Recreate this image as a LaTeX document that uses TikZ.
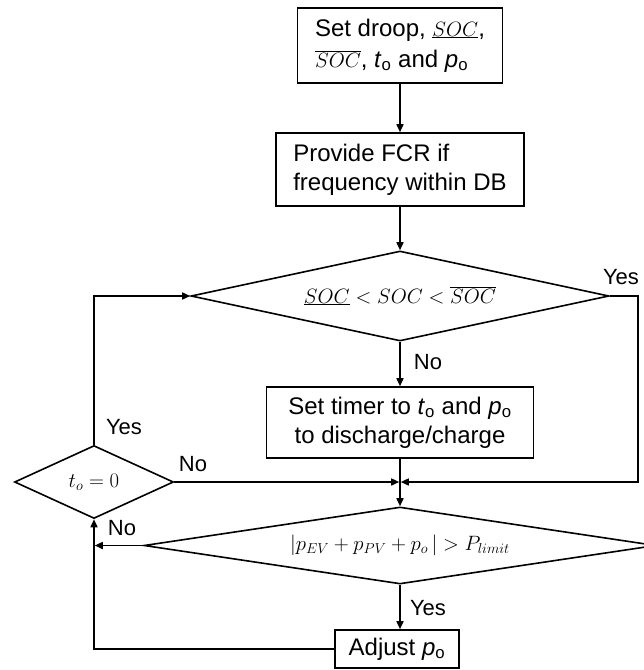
\documentclass[tikz,border=0pt]{standalone}
\usepackage[no-math]{fontspec}
\setmainfont{Liberation Sans}
\usetikzlibrary{shapes.geometric,arrows.meta}

\tikzset{
  wire/.style={line width=1.6pt},
  flow/.style={wire, -{Triangle[length=8pt,width=7pt]}},
  procbox/.style={draw, line width=1.6pt, rectangle, inner sep=0pt,
                  font=\fontsize{24}{29}\selectfont},
  decide/.style={draw, line width=1.6pt, diamond, inner sep=0pt},
  tag/.style={inner sep=0pt, font=\fontsize{22}{26}\selectfont},
}
% math set slightly smaller than the surrounding sans text
\newcommand{\mathsz}[1]{{\fontsize{21}{25}\selectfont$#1$}}
\newcommand{\subo}[1]{\textit{#1}\textsubscript{o}}

\begin{document}
\begin{tikzpicture}[x=1pt,y=-1pt]
\useasboundingbox (0,0) rectangle (644,670);

% process boxes
\node[procbox, minimum width=205pt, minimum height=75pt, align=left] (b1) at (400,45.5)
  {Set droop, \mathsz{\underline{SOC}},\\[2pt] \mathsz{\overline{SOC}}, \subo{t} and \subo{p}};
\node[procbox, minimum width=248pt, minimum height=73pt, align=left] (b2) at (400,169.5)
  {Provide FCR if\\ frequency within DB};
\node[procbox, minimum width=267pt, minimum height=71pt, align=center] (b3) at (400,422.5)
  {Set timer to \subo{t} and \subo{p}\\ to discharge/charge};
\node[procbox, minimum width=124pt, minimum height=38pt] (b4) at (397,649)
  {Adjust \subo{p}};

% decisions (aspect = width/height so the minimum sizes govern)
\node[decide, aspect=4.64, minimum width=418pt, minimum height=90pt] (d1) at (400,296)
  {\fontsize{20}{24}\selectfont$\underline{SOC} < SOC < \overline{SOC}$};
\node[decide, aspect=2.18, minimum width=159pt, minimum height=73pt] (d0) at (94,482)
  {\fontsize{22}{26}\selectfont$t_o = 0$};
\node[decide, aspect=6.65, minimum width=512pt, minimum height=77pt] (d2) at (400,545.5)
  {\fontsize{21.5}{26}\selectfont$|p_{EV} + p_{PV} + p_o\,| > P_{limit}$};

% routing points
\coordinate (J) at (400,482);
\coordinate (rt) at (638,296);
\coordinate (rb) at (638,482);

% connectors
\draw[flow] (b1) -- (b2);
\draw[flow] (b2) -- (d1);
\draw[flow] (d1) -- (b3);
\draw[flow] (b3) -- (d2);
\draw[flow, shorten >=0.8pt] (d1.east) -- (rt) -- (rb) -- (J);
\draw[flow, shorten >=0.8pt] (d0.east) -- (J);
\draw[flow] (d0.north) |- (d1.west);
\draw[flow, shorten >=0.8pt] (d2.west) -- (d2.west -| d0.south);
\draw[flow] (b4.west) -| (d0.south);
\draw[flow] (d2.south) -- (d2.south |- b4.north);

% branch labels
\node[tag] (yes1) at (621,277) {Yes};
\node[tag] (no1) at (428,362) {No};
\node[tag] (yes2) at (124,427) {Yes};
\node[tag] (no2) at (193,464) {No};
\node[tag] (no3) at (122,528) {No};
\node[tag] (yes3) at (428,608) {Yes};
\end{tikzpicture}
\end{document}
